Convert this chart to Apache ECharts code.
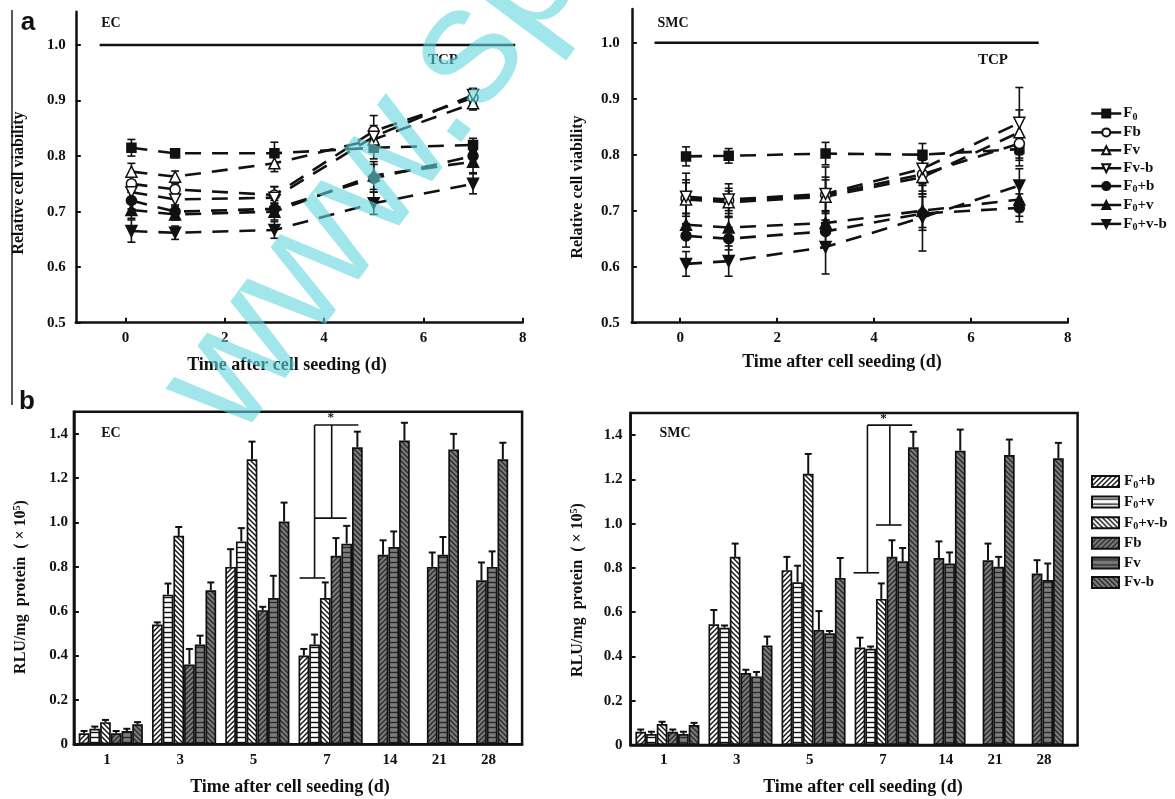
<!DOCTYPE html>
<html>
<head>
<meta charset="utf-8">
<script src="https://cdn.jsdelivr.net/npm/echarts@6/dist/echarts.min.js"></script>
<style>
html, body { margin: 0; padding: 0; background: #fff; }
#main { width: 1175px; height: 799px; }
</style>
</head>
<body>
<div id="main"></div>
<script>
// ---- panel a : relative cell viability ----
var timeX = [0.12, 1, 3, 5, 7];
var lineKeys = ['F0', 'Fb', 'Fv', 'Fv-b', 'F0+b', 'F0+v', 'F0+v-b'];

var ecF0   = [0.815, 0.805, 0.805, 0.815, 0.82];
var ecFb   = [0.75, 0.74, 0.73, 0.845, 0.905];
var ecFv   = [0.772, 0.763, 0.787, 0.83, 0.895];
var ecFvb  = [0.735, 0.722, 0.725, 0.835, 0.91];
var ecF0b  = [0.72, 0.70, 0.705, 0.76, 0.80];
var ecF0v  = [0.703, 0.695, 0.70, 0.765, 0.79];
var ecF0vb = [0.665, 0.662, 0.667, 0.715, 0.75];

var ecF0Err   = [0.015, 0.008, 0.02, 0.02, 0.012];
var ecFbErr   = [0.015, 0.01, 0.015, 0.028, 0.01];
var ecFvErr   = [0.015, 0.01, 0.015, 0.02, 0.012];
var ecFvbErr  = [0.015, 0.01, 0.02, 0.02, 0.012];
var ecF0bErr  = [0.015, 0.01, 0.015, 0.025, 0.02];
var ecF0vErr  = [0.015, 0.01, 0.015, 0.025, 0.02];
var ecF0vbErr = [0.02, 0.012, 0.015, 0.02, 0.018];

var smcF0   = [0.797, 0.798, 0.802, 0.80, 0.81];
var smcFb   = [0.722, 0.718, 0.728, 0.765, 0.82];
var smcFv   = [0.72, 0.715, 0.725, 0.76, 0.84];
var smcFvb  = [0.725, 0.72, 0.73, 0.775, 0.857];
var smcF0b  = [0.655, 0.65, 0.663, 0.695, 0.705];
var smcF0v  = [0.675, 0.67, 0.678, 0.70, 0.72];
var smcF0vb = [0.605, 0.61, 0.635, 0.688, 0.745];

var smcF0Err   = [0.017, 0.013, 0.02, 0.02, 0.02];
var smcFbErr   = [0.045, 0.03, 0.05, 0.03, 0.04];
var smcFvErr   = [0.03, 0.02, 0.03, 0.03, 0.04];
var smcFvbErr  = [0.03, 0.02, 0.03, 0.03, 0.063];
var smcF0bErr  = [0.02, 0.02, 0.02, 0.03, 0.025];
var smcF0vErr  = [0.02, 0.02, 0.02, 0.03, 0.03];
var smcF0vbErr = [0.022, 0.027, 0.048, 0.06, 0.03];

var tcpLevel = 1.0;
var ecTcpX = [-0.52, 7.85];
var smcTcpX = [-0.53, 7.4];
var topXTicks = [0, 2, 4, 6, 8];
var topYTicks = [0.5, 0.6, 0.7, 0.8, 0.9, 1.0];

// ---- panel b : RLU/mg protein ----
var barCats = ['1', '3', '5', '7', '14', '21', '28'];
var barKeys = ['F0+b', 'F0+v', 'F0+v-b', 'Fb', 'Fv', 'Fv-b'];

var ecBarF0b  = [0.05, 0.54, 0.80, 0.40];
var ecBarF0v  = [0.07, 0.675, 0.915, 0.45];
var ecBarF0vb = [0.10, 0.94, 1.285, 0.66];
var ecBarFb   = [0.05, 0.36, 0.605, 0.85, 0.855, 0.80, 0.74];
var ecBarFv   = [0.06, 0.45, 0.66, 0.905, 0.89, 0.855, 0.80];
var ecBarFvb  = [0.09, 0.695, 1.005, 1.34, 1.37, 1.33, 1.285];

var ecBarF0bErr  = [0.01, 0.01, 0.08, 0.03];
var ecBarF0vErr  = [0.01, 0.05, 0.06, 0.045];
var ecBarF0vbErr = [0.01, 0.04, 0.08, 0.07];
var ecBarFbErr   = [0.01, 0.07, 0.015, 0.08, 0.065, 0.065, 0.08];
var ecBarFvErr   = [0.01, 0.04, 0.10, 0.08, 0.07, 0.08, 0.07];
var ecBarFvbErr  = [0.01, 0.035, 0.085, 0.07, 0.08, 0.07, 0.075];

var smcBarF0b  = [0.06, 0.545, 0.79, 0.44];
var smcBarF0v  = [0.05, 0.53, 0.735, 0.435];
var smcBarF0vb = [0.095, 0.85, 1.225, 0.66];
var smcBarFb   = [0.06, 0.325, 0.52, 0.85, 0.845, 0.835, 0.775];
var smcBarFv   = [0.05, 0.31, 0.505, 0.83, 0.82, 0.805, 0.745];
var smcBarFvb  = [0.09, 0.45, 0.755, 1.345, 1.33, 1.31, 1.295];

var smcBarF0bErr  = [0.01, 0.065, 0.06, 0.045];
var smcBarF0vErr  = [0.01, 0.01, 0.075, 0.01];
var smcBarF0vbErr = [0.01, 0.06, 0.09, 0.07];
var smcBarFbErr   = [0.01, 0.015, 0.085, 0.075, 0.075, 0.075, 0.06];
var smcBarFvErr   = [0.01, 0.02, 0.01, 0.06, 0.05, 0.045, 0.075];
var smcBarFvbErr  = [0.01, 0.04, 0.09, 0.07, 0.095, 0.07, 0.07];

var barYTicks = [0, 0.2, 0.4, 0.6, 0.8, 1.0, 1.2, 1.4];

// significance brackets: [x1, y1, x2, y2] in bar-slot units
var ecSig = [[22.5, 1.44, 26.6, 1.44], [22.5, 1.44, 22.5, 0.75], [21.1, 0.75, 23.5, 0.75],
             [24.1, 1.44, 24.1, 1.02], [22.5, 1.02, 25.5, 1.02]];
var smcSig = [[22.2, 1.445, 26.4, 1.445], [22.2, 1.445, 22.2, 0.778], [20.9, 0.778, 23.3, 0.778],
              [24.3, 1.445, 24.3, 0.994], [23.0, 0.994, 25.4, 0.994]];
var ecStar = [[24.0, 1.472]];
var smcStar = [[23.7, 1.475]];

var ink = '#111';
var serif = '"Liberation Serif", "Times New Roman", serif';

// bar slots: 6 bars per early group, 3 bars for days 14-28
var groupGaps = [0.85, 0.85, 0.85, 1.4, 1.6, 1.6];
var groupStart = [];
var slotMax = 41.9;
(function () {
    var s = 0.45;
    for (var g = 0; g < barCats.length; g++) {
        groupStart.push(s);
        s += (g < 4 ? 6 : 3) + (groupGaps[g] || 0);
    }
})();
function slotX(g, k) {
    return groupStart[g] + (g < 4 ? k : k - 3) + 0.5;
}
var labelX = barCats.map(function (c, g) {
    return groupStart[g] + (g < 4 ? 3 : 1.5) - 0.35;
});

// hatch patterns for the bars
function hatch(bg, fg, kind) {
    var n = 5;
    var c = document.createElement('canvas');
    c.width = n; c.height = n;
    var ctx = c.getContext('2d');
    ctx.fillStyle = bg;
    ctx.fillRect(0, 0, n, n);
    ctx.strokeStyle = fg;
    ctx.lineWidth = 1.4;
    ctx.beginPath();
    if (kind === 'h') {
        ctx.moveTo(0, 2.5); ctx.lineTo(n, 2.5);
    } else if (kind === '/') {
        ctx.moveTo(0, n); ctx.lineTo(n, 0);
        ctx.moveTo(-1, 1); ctx.lineTo(1, -1);
        ctx.moveTo(n - 1, n + 1); ctx.lineTo(n + 1, n - 1);
    } else {
        ctx.moveTo(0, 0); ctx.lineTo(n, n);
        ctx.moveTo(n - 1, -1); ctx.lineTo(n + 1, 1);
        ctx.moveTo(-1, n - 1); ctx.lineTo(1, n + 1);
    }
    ctx.stroke();
    return c;
}
var gray = '#7c7c7c';
var barFills = [
    hatch('#fff', ink, '/'), hatch('#fff', ink, 'h'), hatch('#fff', ink, '\\'),
    hatch(gray, '#2a2a2a', '/'), hatch(gray, '#2a2a2a', 'h'), hatch(gray, '#2a2a2a', '\\')
];

var marks = [
    { symbol: 'rect', fill: ink, size: 9, rotate: 0 },
    { symbol: 'circle', fill: '#fff', size: 10, rotate: 0 },
    { symbol: 'triangle', fill: '#fff', size: 11, rotate: 0 },
    { symbol: 'triangle', fill: '#fff', size: 11, rotate: 180 },
    { symbol: 'circle', fill: ink, size: 10, rotate: 0 },
    { symbol: 'triangle', fill: ink, size: 11, rotate: 0 },
    { symbol: 'triangle', fill: ink, size: 11, rotate: 180 }
];

function errRender(upperOnly, cap, lw) {
    return function (params, api) {
        var x = api.value(0), y = api.value(1), e = api.value(2);
        var top = api.coord([x, y + e]);
        var bot = api.coord([x, upperOnly ? y : y - e]);
        var st = { stroke: ink, lineWidth: lw };
        var ch = [
            { type: 'line', shape: { x1: top[0], y1: top[1], x2: bot[0], y2: bot[1] }, style: st },
            { type: 'line', shape: { x1: top[0] - cap, y1: top[1], x2: top[0] + cap, y2: top[1] }, style: st }
        ];
        if (!upperOnly) {
            ch.push({ type: 'line', shape: { x1: bot[0] - cap, y1: bot[1], x2: bot[0] + cap, y2: bot[1] }, style: st });
        }
        return { type: 'group', children: ch };
    };
}

function segRender(params, api) {
    var a = api.coord([api.value(0), api.value(1)]);
    var b = api.coord([api.value(2), api.value(3)]);
    return { type: 'line', shape: { x1: a[0], y1: a[1], x2: b[0], y2: b[1] },
             style: { stroke: ink, lineWidth: 1.6 } };
}

function starRender(params, api) {
    var p = api.coord([api.value(0), api.value(1)]);
    return { type: 'text', x: p[0], y: p[1],
             style: { text: '*', textAlign: 'center', textVerticalAlign: 'middle',
                      font: 'bold 13px ' + serif, fill: ink } };
}

var series = [];

function addLinePanel(vals, errs, tcpX, idx) {
    var errData = [];
    for (var k = 0; k < lineKeys.length; k++) {
        var m = marks[k];
        var data = [];
        for (var i = 0; i < timeX.length; i++) {
            data.push([timeX[i], vals[k][i]]);
            errData.push([timeX[i], vals[k][i], errs[k][i]]);
        }
        series.push({
            name: 'L:' + lineKeys[k], type: 'line', xAxisIndex: idx, yAxisIndex: idx,
            data: data, symbol: m.symbol, symbolSize: m.size, symbolRotate: m.rotate,
            itemStyle: { color: m.fill, borderColor: ink, borderWidth: 1.5 },
            lineStyle: { color: ink, width: 2.6, type: [16, 11] },
            z: 3
        });
    }
    series.push({
        type: 'custom', xAxisIndex: idx, yAxisIndex: idx, data: errData,
        encode: { x: 0, y: 1 }, renderItem: errRender(false, 4, 1.6), z: 2, silent: true
    });
    series.push({
        type: 'line', xAxisIndex: idx, yAxisIndex: idx, symbol: 'none', silent: true,
        data: [[tcpX[0], tcpLevel], [tcpX[1], tcpLevel]],
        lineStyle: { color: ink, width: 2.5 }
    });
}

function addBarPanel(vals, errs, sig, star, idx) {
    var errData = [];
    for (var k = 0; k < barKeys.length; k++) {
        var data = [];
        for (var g = 0; g < vals[k].length; g++) {
            data.push([slotX(g, k), vals[k][g]]);
            errData.push([slotX(g, k), vals[k][g], errs[k][g]]);
        }
        series.push({
            name: 'B:' + barKeys[k], type: 'bar', xAxisIndex: idx, yAxisIndex: idx,
            data: data, barWidth: 10.7, barGap: '-100%',
            itemStyle: { color: { image: barFills[k], repeat: 'repeat' }, borderColor: ink, borderWidth: 1.7 }
        });
    }
    series.push({
        type: 'custom', xAxisIndex: idx, yAxisIndex: idx, data: errData,
        encode: { x: 0, y: 1 }, renderItem: errRender(true, 3.5, 2), z: 4, silent: true
    });
    series.push({
        type: 'custom', xAxisIndex: idx, yAxisIndex: idx, data: sig,
        encode: { x: [0, 2], y: [1, 3] }, renderItem: segRender, z: 4, silent: true
    });
    series.push({
        type: 'custom', xAxisIndex: idx, yAxisIndex: idx, data: star,
        encode: { x: 0, y: 1 }, renderItem: starRender, z: 4, silent: true
    });
}

addLinePanel([ecF0, ecFb, ecFv, ecFvb, ecF0b, ecF0v, ecF0vb],
             [ecF0Err, ecFbErr, ecFvErr, ecFvbErr, ecF0bErr, ecF0vErr, ecF0vbErr], ecTcpX, 0);
addLinePanel([smcF0, smcFb, smcFv, smcFvb, smcF0b, smcF0v, smcF0vb],
             [smcF0Err, smcFbErr, smcFvErr, smcFvbErr, smcF0bErr, smcF0vErr, smcF0vbErr], smcTcpX, 1);
addBarPanel([ecBarF0b, ecBarF0v, ecBarF0vb, ecBarFb, ecBarFv, ecBarFvb],
            [ecBarF0bErr, ecBarF0vErr, ecBarF0vbErr, ecBarFbErr, ecBarFvErr, ecBarFvbErr], ecSig, ecStar, 2);
addBarPanel([smcBarF0b, smcBarF0v, smcBarF0vb, smcBarFb, smcBarFv, smcBarFvb],
            [smcBarF0bErr, smcBarF0vErr, smcBarF0vbErr, smcBarFbErr, smcBarFvErr, smcBarFvbErr], smcSig, smcStar, 3);

var tickFont = { color: ink, fontFamily: serif, fontWeight: 'bold', fontSize: 15 };

function topXAxis(idx) {
    return {
        type: 'value', gridIndex: idx, min: -1, max: 8,
        axisLine: { show: true, onZero: false, lineStyle: { color: ink, width: 2.5 } },
        axisTick: { show: true, inside: true, length: 5, customValues: topXTicks, lineStyle: { color: ink, width: 2 } },
        axisLabel: echarts.util.extend({ customValues: topXTicks, margin: 8 }, tickFont),
        splitLine: { show: false }
    };
}
function topYAxis(idx, margin) {
    return {
        type: 'value', gridIndex: idx, min: 0.5, max: 1.06,
        axisLine: { show: true, onZero: false, lineStyle: { color: ink, width: 2.5 } },
        axisTick: { show: true, inside: true, length: 5, customValues: topYTicks, lineStyle: { color: ink, width: 2 } },
        axisLabel: echarts.util.extend({
            customValues: topYTicks, margin: margin,
            formatter: function (v) { return v.toFixed(1); }
        }, tickFont),
        splitLine: { show: false }
    };
}
function barXAxis(idx) {
    return {
        type: 'value', gridIndex: idx, min: 0, max: slotMax,
        axisLine: { show: true, onZero: false, lineStyle: { color: ink, width: 2.5 } },
        axisTick: { show: false },
        axisLabel: echarts.util.extend({
            customValues: labelX, margin: 8,
            formatter: function (v) {
                for (var i = 0; i < labelX.length; i++) {
                    if (Math.abs(labelX[i] - v) < 1e-6) return barCats[i];
                }
                return '';
            }
        }, tickFont),
        splitLine: { show: false }
    };
}
function barYAxis(idx, margin) {
    return {
        type: 'value', gridIndex: idx, min: 0, max: 1.5,
        axisLine: { show: true, onZero: false, lineStyle: { color: ink, width: 2.5 } },
        axisTick: { show: true, inside: true, length: 5, customValues: barYTicks, lineStyle: { color: ink, width: 2 } },
        axisLabel: echarts.util.extend({
            customValues: barYTicks, margin: margin,
            formatter: function (v) { return v === 0 ? '0' : v.toFixed(1); }
        }, tickFont),
        splitLine: { show: false }
    };
}

function legendLabel(name) {
    var t = name.slice(2);
    if (t.indexOf('F0') === 0) {
        var rest = t.slice(2);
        return '{n|F}{s|0}' + (rest ? '{n|' + rest + '}' : '');
    }
    return '{n|' + t + '}';
}
var legendRich = {
    n: { fontFamily: serif, fontWeight: 'bold', fontSize: 15, color: ink },
    s: { fontFamily: serif, fontWeight: 'bold', fontSize: 10, color: ink, padding: [7, 0, 0, 0] }
};

function txt(text, x, y, font, rot) {
    return {
        type: 'text', x: x, y: y, rotation: rot || 0, silent: true, z: 50,
        style: { text: text, font: font, fill: ink, textAlign: 'center', textVerticalAlign: 'middle' }
    };
}
var titleFont = 'bold 18px ' + serif;
var yTitleFont = 'bold 16px ' + serif;
var rluTitle = {
    type: 'text', rotation: Math.PI / 2, silent: true, z: 50,
    style: {
        text: '{n|RLU/mg  protein  ( × 10}{p|5}{n|)}', textAlign: 'center', textVerticalAlign: 'middle',
        rich: {
            n: { fontFamily: serif, fontWeight: 'bold', fontSize: 16, fill: ink, color: ink },
            p: { fontFamily: serif, fontWeight: 'bold', fontSize: 10, fill: ink, color: ink, padding: [0, 0, 8, 0] }
        }
    }
};

var option = {
    backgroundColor: '#fff',
    animation: false,
    grid: [
        { left: 75.8, top: 11.7, width: 446.9, height: 311 },
        { left: 631.8, top: 9.1, width: 436, height: 313.6 },
        { left: 73.9, top: 411.7, width: 448.2, height: 332.6, show: true, borderColor: ink, borderWidth: 2.5 },
        { left: 630.6, top: 413, width: 447, height: 332, show: true, borderColor: ink, borderWidth: 2.5 }
    ],
    xAxis: [topXAxis(0), topXAxis(1), barXAxis(2), barXAxis(3)],
    yAxis: [topYAxis(0, 10), topYAxis(1, 12), barYAxis(2, 6), barYAxis(3, 8)],
    legend: [
        {
            data: lineKeys.map(function (k) { return 'L:' + k; }),
            orient: 'vertical', left: 1085, top: 101, itemWidth: 30, itemHeight: 10, itemGap: 2.9,
            selectedMode: false, formatter: legendLabel,
            textStyle: { rich: legendRich, padding: [0, 0, 0, -3] },
            lineStyle: { type: 'solid', width: 2.5, color: ink }
        },
        {
            data: barKeys.map(function (k) { return 'B:' + k; }),
            orient: 'vertical', left: 1086, top: 469, itemWidth: 27, itemHeight: 11, itemGap: 4.6,
            icon: 'rect', selectedMode: false, formatter: legendLabel,
            itemStyle: { borderColor: ink, borderWidth: 2 },
            textStyle: { rich: legendRich }
        }
    ],
    graphic: [
        // scan edge on the left of the page
        { type: 'line', silent: true, shape: { x1: 12, y1: 10, x2: 12, y2: 405 }, style: { stroke: '#222', lineWidth: 1.5 } },
        txt('a', 28, 23, 'bold 26px "Liberation Sans", Arial, sans-serif'),
        txt('b', 27, 402, 'bold 26px "Liberation Sans", Arial, sans-serif'),
        txt('EC', 111, 23, 'bold 14px ' + serif),
        txt('SMC', 673, 23, 'bold 14px ' + serif),
        txt('TCP', 443, 60, 'bold 15px ' + serif),
        txt('TCP', 993, 60, 'bold 15px ' + serif),
        txt('EC', 111, 433, 'bold 14px ' + serif),
        txt('SMC', 675, 433, 'bold 14px ' + serif),
        txt('Time after cell seeding (d)', 287, 365, titleFont),
        txt('Time after cell seeding (d)', 842, 362, titleFont),
        txt('Time after cell seeding (d)', 290, 787, titleFont),
        txt('Time after cell seeding (d)', 863, 787, titleFont),
        txt('Relative cell viability', 19, 183, yTitleFont, Math.PI / 2),
        txt('Relative cell viability', 578, 187, yTitleFont, Math.PI / 2),
        echarts.util.extend({ x: 21, y: 587 }, rluTitle),
        echarts.util.extend({ x: 578, y: 590 }, rluTitle),
        // watermark
        {
            type: 'text', x: 268, y: 465, rotation: 0.93, silent: true, z: 100,
            style: { text: 'www.sp', font: '170px "Liberation Sans", Arial, sans-serif',
                     fill: 'rgba(97,213,220,0.6)', textAlign: 'left', textVerticalAlign: 'bottom' }
        }
    ],
    series: series
};

var chart = echarts.init(document.getElementById('main'));
chart.setOption(option);
</script>
</body>
</html>
